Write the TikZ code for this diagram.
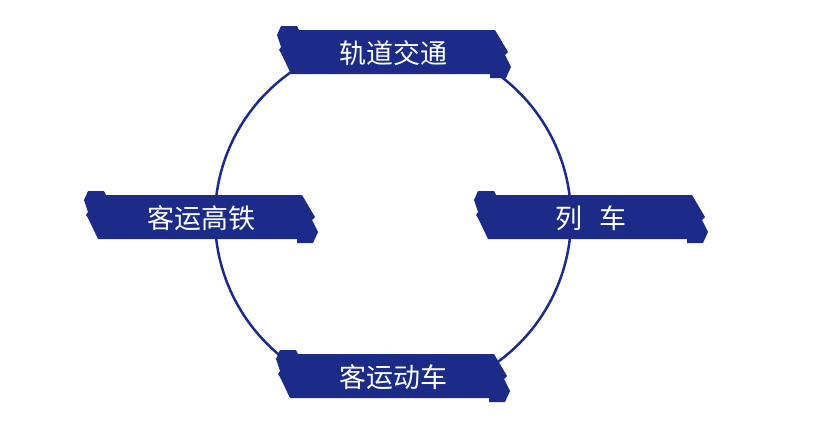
\documentclass[tikz,border=0pt]{standalone}
\usepackage{fontspec}
\newfontfamily\cjk{Noto Sans CJK SC}
\definecolor{navy}{RGB}{27,43,135}
\tikzset{
  bannertext/.style={text=white, font=\cjk\fontsize{27}{32}\selectfont, inner sep=0pt},
  ring/.style={draw=navy, line width=2.5pt, circle, minimum size=356pt, inner sep=0pt},
  bannerfill/.style={fill=navy}
}
\newcommand\bannerpath{(4,0) -- (20,0) -- (22,4) -- (218,4) -- (231,26) -- (228,29) -- (234,41) -- (229,52) -- (213,52) -- (213,48) -- (14,48) -- (4,27) -- (2,24) -- (4,21) -- (0,9) -- cycle}
\begin{document}
\begin{tikzpicture}[x=1pt,y={(0pt,-1pt)}]
\useasboundingbox (0,0) rectangle (830,440);
\node[ring] (ringnode) at (393,218) {};
\begin{scope}[shift={(277,26)}]
  \fill[bannerfill] \bannerpath;
  \node[bannertext] (top) at (116,27) {轨道交通};
\end{scope}
\begin{scope}[shift={(84,191)}]
  \fill[bannerfill] \bannerpath;
  \node[bannertext] (left) at (117,27) {客运高铁};
\end{scope}
\begin{scope}[shift={(474,191)}]
  \fill[bannerfill] \bannerpath;
  \node[bannertext] (right) at (117,27) {列\hspace{0.6em}车};
\end{scope}
\begin{scope}[shift={(276,350)}]
  \fill[bannerfill] \bannerpath;
  \node[bannertext] (bottom) at (117,27) {客运动车};
\end{scope}
\end{tikzpicture}
\end{document}
